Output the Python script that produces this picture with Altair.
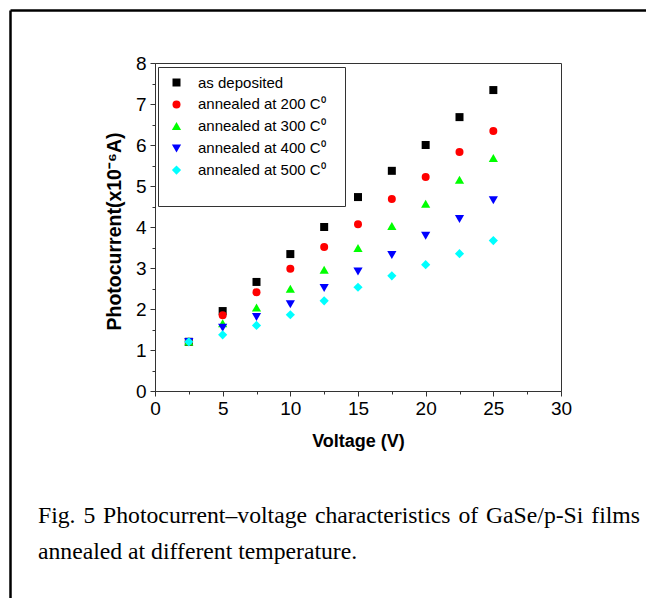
import altair as alt
import pandas as pd

# ---- data ----
voltage = [2.5, 5, 7.5, 10, 12.5, 15, 17.5, 20, 22.5, 25]
series_names = [
    "as deposited",
    "annealed at 200 C\u2070",
    "annealed at 300 C\u2070",
    "annealed at 400 C\u2070",
    "annealed at 500 C\u2070",
]
as_deposited = [1.2, 1.95, 2.66, 3.34, 4.0, 4.73, 5.37, 6.0, 6.68, 7.34]
annealed_200 = [1.2, 1.85, 2.41, 2.98, 3.51, 4.07, 4.68, 5.22, 5.83, 6.34]
annealed_300 = [1.2, 1.65, 2.03, 2.49, 2.95, 3.48, 4.02, 4.56, 5.15, 5.68]
annealed_400 = [1.2, 1.55, 1.81, 2.12, 2.52, 2.92, 3.32, 3.79, 4.2, 4.66]
annealed_500 = [1.2, 1.37, 1.6, 1.86, 2.2, 2.53, 2.81, 3.08, 3.35, 3.67]
series_values = [as_deposited, annealed_200, annealed_300, annealed_400, annealed_500]

shapes = [
    "square",
    "circle",
    "M0,-1.05L1.15,0.95L-1.15,0.95Z",
    "M0,1.05L1.15,-0.95L-1.15,-0.95Z",
    "M0,-1.15L1.15,0L0,1.15L-1.15,0Z",
]
colors = ["#000000", "#ff0000", "#00ff00", "#0000ff", "#00ffff"]

x_ticks = [0, 2.5, 5, 7.5, 10, 12.5, 15, 17.5, 20, 22.5, 25, 27.5, 30]
y_ticks = [0, 0.5, 1, 1.5, 2, 2.5, 3, 3.5, 4, 4.5, 5, 5.5, 6, 6.5, 7, 7.5, 8]

x_title = "Voltage (V)"
y_title = "Photocurrent(x10\u207b\u2076A)"
caption_lines = [
    "Fig. 5 Photocurrent\u2013voltage characteristics of GaSe/p-Si films",
    "annealed at different temperature.",
]

rows = []
for name, vals in zip(series_names, series_values):
    for v, c in zip(voltage, vals):
        rows.append({"series": name, "voltage": v, "current": c})
df = pd.DataFrame(rows)

# justified first caption line: word positions from Times metrics
times_w = {
    "F": .556, "i": .278, "g": .5, ".": .25, "5": .5, "P": .556, "h": .5, "o": .5,
    "t": .278, "c": .444, "u": .5, "r": .333, "e": .444, "n": .5, "\u2013": .5,
    "v": .5, "l": .278, "a": .444, "s": .389, "f": .333, "G": .722, "S": .556,
    "/": .278, "p": .5, "-": .333, "m": .778, "d": .5,
}
cap_size = 23.7
cap_left = -117.0          # relative to plot left
cap_right = 485.0          # right end of justified line
words = caption_lines[0].split(" ")
widths = [sum(times_w.get(ch, .5) for ch in w) * cap_size for w in words]
gap = (cap_right - cap_left - sum(widths)) / (len(words) - 1)
pos = []
cur = cap_left
for w, wd in zip(words, widths):
    pos.append(cur)
    cur += wd + gap
cap1_df = pd.DataFrame({"t": words, "px": pos})

# invisible (white) spacer title adds the empty band at the legend bottom;
# a blank (non-whitespace) padding glyph after labels widens the box
legend_kw = dict(
    orient="none",
    legendX=3,
    legendY=4,
    title="0",
    titleOrient="bottom",
    labelExpr="datum.label + '\u2800'",
)

points = alt.Chart(df).mark_point(filled=True, size=64, opacity=1, strokeWidth=0).encode(
    x=alt.X(
        "voltage:Q",
        scale=alt.Scale(domain=[0, 30], nice=False, zero=False),
        axis=alt.Axis(
            values=x_ticks,
            title=x_title,
            titleY=55,
            titleBaseline="alphabetic",
            titleFontSize=18,
            titleFontWeight="bold",
            tickSize={"condition": {"test": "datum.value % 5 !== 0", "value": 3}, "value": 5},
            labelExpr="datum.value % 5 === 0 ? format(datum.value, 'd') : ''",
            labelOverlap=False,
            labelFlush=False,
            labelPadding=3,
        ),
    ),
    y=alt.Y(
        "current:Q",
        scale=alt.Scale(domain=[0, 8], nice=False),
        axis=alt.Axis(
            values=y_ticks,
            title=y_title,
            titleX=-41,
            titleY=168,
            titleAngle=270,
            titleAlign="center",
            titleBaseline="middle",
            titleFontSize=19.5,
            titleFontWeight="bold",
            tickSize={"condition": {"test": "datum.value % 1 !== 0", "value": 3}, "value": 5},
            labelExpr="datum.value % 1 === 0 ? format(datum.value, 'd') : ''",
            labelOverlap=False,
            labelFlush=False,
            labelPadding=4,
        ),
    ),
    shape=alt.Shape(
        "series:N",
        scale=alt.Scale(domain=series_names, range=shapes),
        legend=alt.Legend(**legend_kw),
    ),
    color=alt.Color(
        "series:N",
        scale=alt.Scale(domain=series_names, range=colors),
        legend=alt.Legend(**legend_kw),
    ),
)

one = pd.DataFrame({"k": [0]})
frame_left = alt.Chart(one).mark_rule(color="black", strokeWidth=2.5).encode(
    x=alt.value(-144.5), y=alt.value(-52.5), y2=alt.value(560)
)
frame_top = alt.Chart(one).mark_rule(color="black", strokeWidth=2.5).encode(
    x=alt.value(-144.5), x2=alt.value(500), y=alt.value(-52.5)
)

cap1 = alt.Chart(cap1_df).mark_text(
    align="left", baseline="alphabetic", font="Liberation Serif", fontSize=cap_size, color="black"
).encode(x=alt.X("px:Q", scale=None), y=alt.value(460), text="t:N")
cap2 = alt.Chart(pd.DataFrame({"t": [caption_lines[1]]})).mark_text(
    align="left", baseline="alphabetic", font="Liberation Serif", fontSize=cap_size, color="black"
).encode(x=alt.value(cap_left), y=alt.value(496), text="t:N")

chart = (
    alt.layer(frame_left, frame_top, points, cap1, cap2)
    .properties(
        width=406,
        height=328,
        padding={"left": 147, "top": 55, "right": 85, "bottom": 207},
        autosize=alt.AutoSizeParams(type="none"),
        background="white",
    )
    .configure_view(stroke="#333333", strokeWidth=1)
    .configure_axis(
        grid=False,
        domainColor="#333333",
        tickColor="#333333",
        labelFont="Liberation Sans",
        labelFontSize=19,
        labelColor="black",
        titleFont="Liberation Sans",
        titleColor="black",
    )
    .configure_legend(
        strokeColor="#333333",
        strokeWidth=1,
        fillColor="white",
        padding=8,
        labelFont="Liberation Sans",
        labelFontSize=15,
        labelColor="black",
        labelLimit=300,
        symbolSize=64,
        symbolStrokeWidth=0,
        rowPadding=5.9,
        symbolOffset=3,
        labelOffset=14,
        titleFont="Liberation Sans",
        titleFontSize=15.4,
        titleFontWeight="normal",
        titleColor="white",
        titlePadding=4,
        titleLimit=400,
    )
)

chart.save("out.html", embed_options={"renderer": "svg", "actions": False})
